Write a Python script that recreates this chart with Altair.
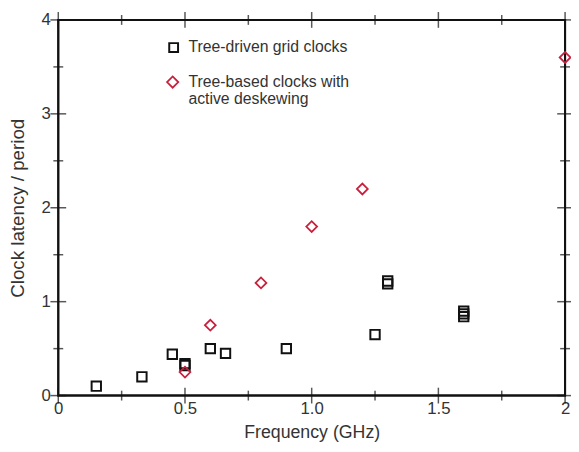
import altair as alt
import pandas as pd

# Tree-driven grid clocks (squares)
grid_freq = [0.15, 0.33, 0.45, 0.50, 0.50, 0.60, 0.66, 0.90, 1.25, 1.30, 1.30, 1.60, 1.60, 1.60]
grid_ratio = [0.10, 0.20, 0.44, 0.32, 0.34, 0.50, 0.45, 0.50, 0.65, 1.19, 1.22, 0.84, 0.87, 0.90]

# Tree-based clocks with active deskewing (diamonds)
desk_freq = [0.50, 0.60, 0.80, 1.00, 1.20, 2.00]
desk_ratio = [0.25, 0.75, 1.20, 1.80, 2.20, 3.60]

x_major = [0, 0.5, 1.0, 1.5, 2.0]
x_minor = [0.25, 0.75, 1.25, 1.75]
y_major = [0, 1, 2, 3, 4]
y_minor = [0.5, 1.5, 2.5, 3.5]

legend_labels = ["Tree-driven grid clocks", "Tree-based clocks with", "active deskewing"]

W, H = 514, 381
FONT = "Liberation Sans"
TXT = "#333333"
INK = "#111111"
RED = "#c8203c"

grid_df = pd.DataFrame({"f": grid_freq, "r": grid_ratio})
desk_df = pd.DataFrame({"f": desk_freq, "r": desk_ratio})

xs = alt.Scale(domain=[0, 2], nice=False, zero=False)
ys = alt.Scale(domain=[0, 4], nice=False, zero=False)

x_axis = alt.Axis(values=x_major, labelExpr="datum.value == 0 ? '0' : datum.value == 2 ? '2' : format(datum.value, '.1f')",
                  tickSize=0, domain=False, grid=False, labelFontSize=17, labelFont=FONT,
                  labelColor=TXT, labelPadding=5, title="Frequency (GHz)", titleFont=FONT,
                  titleFontSize=18, titleFontWeight="normal", titleColor=TXT, titlePadding=8,
                  labelFlush=False)
y_axis = alt.Axis(values=y_major, format="d", tickSize=0, domain=False, grid=False,
                  labelFontSize=17, labelFont=FONT, labelColor=TXT, labelPadding=8,
                  title="Clock latency / period", titleFont=FONT, titleFontSize=19,
                  titleFontWeight="normal", titleColor=TXT, titlePadding=14, labelFlush=False)

base_axes = alt.Chart(grid_df).mark_point(opacity=0).encode(
    x=alt.X("f:Q", scale=xs, axis=x_axis),
    y=alt.Y("r:Q", scale=ys, axis=y_axis),
)

squares = alt.Chart(grid_df).mark_point(shape="square", size=90, filled=False,
                                         color=INK, strokeWidth=2, opacity=1).encode(
    x=alt.X("f:Q", scale=xs), y=alt.Y("r:Q", scale=ys))

diamonds = alt.Chart(desk_df).mark_point(shape="diamond", size=120, filled=False,
                                          color=RED, strokeWidth=1.8, opacity=1).encode(
    x=alt.X("f:Q", scale=xs), y=alt.Y("r:Q", scale=ys))

def xticks(vals, length):
    df = pd.DataFrame({"v": vals, "y0": [0.0] * len(vals), "y4": [4.0] * len(vals)})
    bottom = alt.Chart(df).mark_tick(color=INK, thickness=1.5, size=2 * length,
                                     orient="vertical").encode(
        x=alt.X("v:Q", scale=xs), y=alt.Y("y0:Q", scale=ys))
    top = alt.Chart(df).mark_tick(color=INK, thickness=1.5, size=2 * length,
                                  orient="vertical").encode(
        x=alt.X("v:Q", scale=xs), y=alt.Y("y4:Q", scale=ys))
    return bottom + top

def yticks(vals, length):
    df = pd.DataFrame({"v": vals, "x0": [0.0] * len(vals), "x2": [2.0] * len(vals)})
    left = alt.Chart(df).mark_tick(color=INK, thickness=1.5, size=2 * length,
                                   orient="horizontal").encode(
        y=alt.Y("v:Q", scale=ys), x=alt.X("x0:Q", scale=xs))
    right = alt.Chart(df).mark_tick(color=INK, thickness=1.5, size=2 * length,
                                    orient="horizontal").encode(
        y=alt.Y("v:Q", scale=ys), x=alt.X("x2:Q", scale=xs))
    return left + right

frame = alt.Chart(pd.DataFrame({"a": [0]})).mark_rect(
    fill=None, fillOpacity=0, stroke=INK, strokeWidth=2).encode(
    x=alt.value(0), x2=alt.value(W), y=alt.value(0), y2=alt.value(H))

leg_sq = alt.Chart(pd.DataFrame({"a": [0]})).mark_point(
    shape="square", size=80, filled=False, color=INK, strokeWidth=2, opacity=1).encode(
    x=alt.value(117), y=alt.value(28))
leg_di = alt.Chart(pd.DataFrame({"a": [0]})).mark_point(
    shape="diamond", size=130, filled=False, color=RED, strokeWidth=1.8, opacity=1).encode(
    x=alt.value(116), y=alt.value(63))
leg_df = pd.DataFrame({"t": legend_labels, "yy": [28, 63, 80]})
leg_txt = alt.Chart(leg_df).mark_text(align="left", baseline="middle", font=FONT,
                                      fontSize=16, color=TXT).encode(
    x=alt.value(132), y=alt.Y("yy:Q", scale=None), text="t:N")

chart = alt.layer(
    base_axes,
    xticks(x_major, 8), xticks(x_minor, 5),
    yticks(y_major, 8), yticks(y_minor, 5),
    frame,
    leg_sq, leg_di, leg_txt,
    squares, diamonds,
).properties(
    width=W, height=H,
    autosize=alt.AutoSizeParams(type="none"),
    padding={"left": 51, "top": 9, "right": 6, "bottom": 46},
).configure_view(stroke=INK, strokeWidth=2)

chart.save("out.html", embed_options={"renderer": "svg", "actions": False})
